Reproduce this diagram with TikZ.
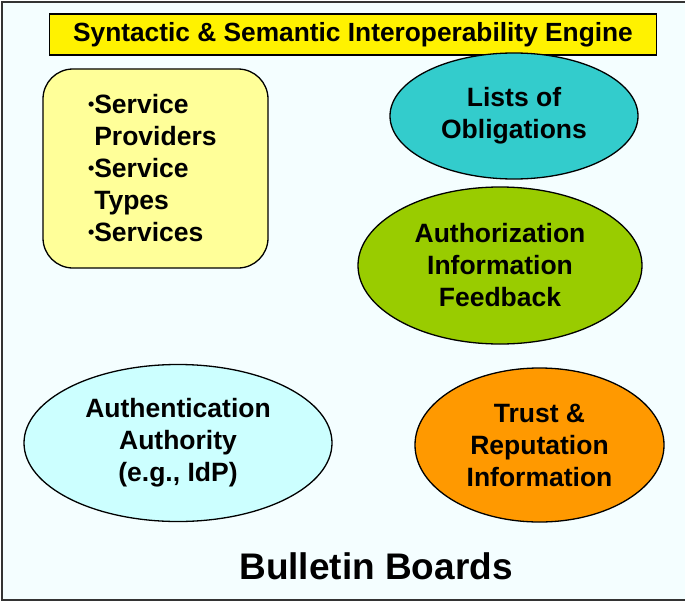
\documentclass[tikz,border=0pt]{standalone}
\usepackage{fontspec}
\setmainfont{Liberation Sans}
\usepackage{tikz}
\usetikzlibrary{shapes}
\usetikzlibrary{shapes.geometric}
\definecolor{boardbg}{HTML}{F4FEFF}
\definecolor{listsfill}{HTML}{33CCCC}
\definecolor{authzfill}{HTML}{99CC00}
\definecolor{authnfill}{HTML}{CCFFFF}
\definecolor{trustfill}{HTML}{FF9900}
\definecolor{regfill}{HTML}{FFFF99}
\newcommand{\bul}{\raisebox{3pt}{\fontsize{18}{18}\selectfont•}}
\tikzstyle{blob} = [draw, ellipse, line width = 1.3, inner sep = 0, align = center, font = \bfseries\fontsize{26.5}{32}\selectfont]

\begin{document}
\begin{tikzpicture}[x = 1pt, y = -1pt]
\useasboundingbox (0, 0) rectangle (685, 602);
\fill [boardbg] (2, 2) rectangle (685, 600);
\draw [line width = 2, black!80] (685, 2) -- (2, 2) -- (2, 600) -- (685, 600);
%\node at (353, 35) {engine};
\node [draw, fill = yellow, line width = 1.3, minimum width = 607, minimum height = 41, inner sep = 0, font = \bfseries\fontsize{26.3}{30}\selectfont] (E) at (353, 34.5) {Syntactic \& Semantic Interoperability Engine};
\node [draw, fill = regfill, rounded corners = 30, line width = 1.3, minimum width = 225, minimum height = 199, text width = 135, inner xsep = 45, inner ysep = 0, align = left, font = \bfseries\fontsize{26.5}{32}\selectfont] (R) at (155.5, 168.5) {\bul Service\\\phantom{\bul}Providers\\\bul Service\\\phantom{\bul}Types\\\bul Services};
\node [blob, fill = listsfill, minimum width = 248, minimum height = 126] (L) at (514, 116) {Lists of\\Obligations};
\node [blob, fill = authzfill, minimum width = 284, minimum height = 157] (Z) at (500, 265.5) {Authorization\\Information\\Feedback};
\node [blob, fill = authnfill, minimum width = 308, minimum height = 157] (N) at (178, 443) {Authentication\\Authority\\(e.g., IdP)};
\node [blob, fill = trustfill, minimum width = 249, minimum height = 154] (T) at (539.5, 445) {Trust \&\\Reputation\\Information};
\node [font = \bfseries\fontsize{37}{42}\selectfont] (B) at (376, 566) {Bulletin Boards};
\end{tikzpicture}
\end{document}
